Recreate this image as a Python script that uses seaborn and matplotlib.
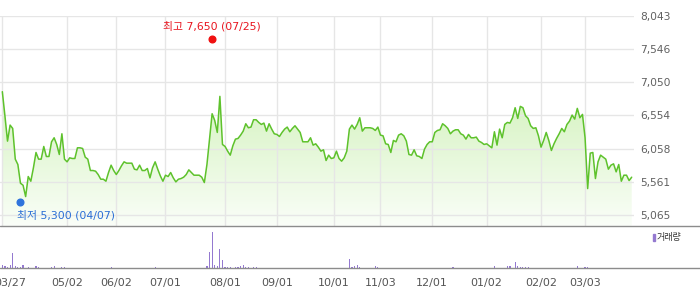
import numpy as np
import pandas as pd
import matplotlib
matplotlib.use("Agg")
import matplotlib.pyplot as plt
import matplotlib.transforms as mtransforms
from matplotlib.colors import LinearSegmentedColormap
from matplotlib.lines import Line2D
from matplotlib.patches import Rectangle
import seaborn as sns

# ---------------- data (one value per trading day, 2025-03-27 .. 2026-03-27) ----------------
prices = [
    6910, 6550, 6170, 6410, 6360, 5900, 5820, 5540, 5510, 5340,
    5640, 5570, 5770, 6000, 5900, 5900, 6090, 5940, 5940, 6160,
    6220, 6120, 5970, 6280, 5900, 5860, 5920, 5910, 5910, 6070,
    6070, 6060, 5930, 5900, 5730, 5730, 5720, 5670, 5600, 5600,
    5570, 5700, 5810, 5730, 5670, 5730, 5800, 5860, 5840, 5840,
    5840, 5750, 5740, 5810, 5730, 5730, 5760, 5620, 5770, 5860,
    5750, 5650, 5570, 5660, 5640, 5700, 5620, 5560, 5600, 5610,
    5630, 5670, 5740, 5700, 5660, 5660, 5660, 5630, 5550, 5820,
    6200, 6580, 6480, 6300, 6840, 6120, 6090, 6020, 5960, 6100,
    6200, 6210, 6260, 6320, 6430, 6370, 6380, 6490, 6490, 6450,
    6420, 6440, 6320, 6430, 6350, 6280, 6270, 6240, 6300, 6350,
    6380, 6310, 6360, 6400, 6350, 6300, 6160, 6160, 6160, 6220,
    6110, 6130, 6080, 6020, 6040, 5880, 5960, 5910, 5920, 6020,
    5910, 5870, 5920, 6020, 6350, 6410, 6350, 6420, 6520, 6320,
    6370, 6370, 6370, 6360, 6330, 6380, 6260, 6250, 6130, 6120,
    6000, 6180, 6160, 6260, 6280, 6250, 6170, 5970, 5960, 6040,
    5950, 5940, 5910, 6050, 6120, 6160, 6160, 6300, 6330, 6340,
    6430, 6400, 6360, 6280, 6320, 6340, 6340, 6280, 6260, 6200,
    6270, 6220, 6220, 6230, 6170, 6150, 6120, 6130, 6100, 6070,
    6310, 6110, 6350, 6220, 6420, 6450, 6440, 6520, 6670, 6510,
    6690, 6670, 6550, 6510, 6400, 6360, 6370, 6250, 6080, 6180,
    6300, 6180, 6030, 6130, 6210, 6280, 6360, 6310, 6420, 6470,
    6560, 6500, 6660, 6520, 6570, 6220, 5460, 5990, 6000, 5610,
    5860, 5960, 5930, 5900, 5750, 5810, 5830, 5710, 5820, 5570,
    5660, 5660, 5580, 5630,
]

volume = [
    33, 23, 13, 33, 153, 23, 16, 13, 33, 3,
    13, 3, 3, 23, 13, 3, 3, 3, 3, 13,
    23, 3, 3, 13, 13, 3, 3, 3, 3, 3,
    3, 3, 3, 3, 3, 3, 3, 3, 3, 3,
    3, 3, 13, 3, 3, 3, 3, 3, 3, 3,
    3, 3, 3, 3, 3, 3, 3, 3, 3, 13,
    3, 3, 3, 3, 3, 3, 3, 3, 3, 3,
    3, 3, 3, 3, 3, 3, 3, 3, 3, 23,
    163, 363, 33, 23, 193, 83, 13, 13, 13, 3,
    13, 16, 26, 33, 16, 13, 3, 13, 13, 3,
    3, 3, 3, 3, 3, 3, 3, 3, 3, 3,
    3, 3, 3, 3, 3, 3, 3, 3, 3, 3,
    3, 3, 3, 3, 3, 3, 3, 3, 3, 3,
    3, 3, 3, 3, 93, 16, 23, 30, 13, 3,
    3, 3, 3, 3, 23, 13, 3, 3, 3, 3,
    3, 3, 3, 3, 3, 3, 3, 3, 3, 3,
    3, 3, 3, 3, 3, 3, 3, 3, 3, 3,
    3, 3, 3, 3, 13, 3, 3, 3, 3, 3,
    3, 3, 3, 3, 3, 3, 3, 3, 3, 3,
    23, 3, 3, 3, 3, 23, 23, 3, 66, 23,
    16, 16, 16, 13, 3, 3, 3, 3, 3, 3,
    3, 3, 3, 3, 3, 3, 3, 3, 3, 3,
    3, 3, 23, 3, 3, 13, 13, 3, 3, 3,
    3, 3, 3, 3, 3, 3, 3, 3, 3, 3,
    3, 3, 3, 3,
]

tick_idx = [0, 25, 44, 63, 86, 106, 128, 146, 166, 187, 208, 225]
tick_labels = ["03/27", "05/02", "06/02", "07/01", "08/01", "09/01",
               "10/01", "11/03", "12/01", "01/02", "02/02", "03/03"]
ytick_values = [5065, 5561, 6058, 6554, 7050, 7546, 8043]

high_idx, high_val, high_label = 81, 7650, "최고 7,650 (07/25)"
low_idx, low_val, low_label = 7, 5300, "최저 5,300 (04/07)"
legend_label = "거래량"

# ---------------- style ----------------
sns.set_style("white")
plt.rcParams["font.family"] = ["DejaVu Sans", "Noto Sans CJK KR"]

LINE = "#5ec22c"
PURPLE = "#9479d0"
W, H = 700, 289

df = pd.DataFrame({"idx": np.arange(len(prices)), "price": prices, "volume": volume})

fig = plt.figure(figsize=(W / 100, H / 100), dpi=100)


def fy(py):
    return 1 - py / H


ax = fig.add_axes([0, fy(225.7), 633.5 / W, (225.7 - 16) / H])
axv = fig.add_axes([0, fy(268.3), 633.5 / W, (268.3 - 225.7) / H])

xlim = (-0.9, 243.7)
ylim = (4904, 8043)

# price line
sns.lineplot(data=df, x="idx", y="price", ax=ax, color=LINE, linewidth=1.1, zorder=3)

# gradient fill under line
poly = ax.fill_between(df["idx"], df["price"], ylim[0], color="none", linewidth=0)
cmap = LinearSegmentedColormap.from_list("g", ["#fafef8", "#d3f2bd"])
grad = np.linspace(0, 1, 256).reshape(-1, 1)
im = ax.imshow(grad, aspect="auto", cmap=cmap, origin="lower",
               extent=[xlim[0], xlim[1], ylim[0], 7000], zorder=0.3)
im.set_clip_path(poly.get_paths()[0], transform=ax.transData)

ax.set_xlim(xlim)
ax.set_ylim(ylim)
ax.set_xticks(tick_idx)
ax.set_yticks(ytick_values)
ax.set_yticklabels([f"{v:,}" for v in ytick_values])
ax.yaxis.tick_right()
ax.grid(True, color="#e6e6e6", linewidth=1.0)
ax.set_axisbelow(True)
ax.tick_params(axis="x", length=0, labelbottom=False)
ax.tick_params(axis="y", length=0, pad=5, labelsize=7.7, labelcolor="#606060")
ax.set_xlabel("")
ax.set_ylabel("")
for s in ax.spines.values():
    s.set_visible(False)

# high / low markers
up = mtransforms.offset_copy(ax.transData, fig=fig, x=0, y=3, units="dots")
down = mtransforms.offset_copy(ax.transData, fig=fig, x=0, y=-3, units="dots")
ax.plot([high_idx], [high_val], "o", ms=4.8, color="#f01010", transform=up,
        clip_on=False, zorder=6)
ax.plot([low_idx], [low_val], "o", ms=4.8, color="#2f74dc", transform=down,
        clip_on=False, zorder=6)
ax.annotate(high_label, xy=(high_idx, high_val), xytext=(0, 16),
            textcoords="offset pixels", ha="center", va="center",
            color="#e8141e", fontsize=7.8, annotation_clip=False)
ax.annotate(low_label, xy=(low_idx, low_val), xytext=(-3.5, -15.7),
            textcoords="offset pixels", ha="left", va="center",
            color="#2b6fd6", fontsize=7.8, annotation_clip=False)

# volume bars
sns.barplot(data=df, x="idx", y="volume", native_scale=True, width=0.45,
            color=PURPLE, saturation=1, linewidth=0, errorbar=None, ax=axv)
axv.set_xlim(xlim)
axv.set_ylim(0, 426)
axv.set_yticks([])
axv.set_xticks(tick_idx)
axv.set_xticklabels(tick_labels)
axv.tick_params(axis="x", length=3, width=0.8, color="#999999", pad=4,
                labelsize=8, labelcolor="#555555")
axv.set_xlabel("")
axv.set_ylabel("")
for s in axv.spines.values():
    s.set_visible(False)

# the first date label sits partly past the left edge, as in the source
first = axv.get_xticklabels()[0]
first.set_transform(first.get_transform()
                    + mtransforms.ScaledTranslation(8 / 100, 0, fig.dpi_scale_trans))

# full-width panel borders
for py in (225.7, 268.3):
    fig.add_artist(Line2D([0, 1], [fy(py), fy(py)], transform=fig.transFigure,
                          color="#8c8c8c", linewidth=1.0))

# volume legend
fig.add_artist(Rectangle((652.7 / W, fy(240.7)), 2.5 / W, 6.7 / H,
                         transform=fig.transFigure, color=PURPLE))
fig.text(657 / W, fy(237.7), legend_label, ha="left", va="center",
         fontsize=6.5, color="#333333")

fig.savefig("out.png", dpi=100)
